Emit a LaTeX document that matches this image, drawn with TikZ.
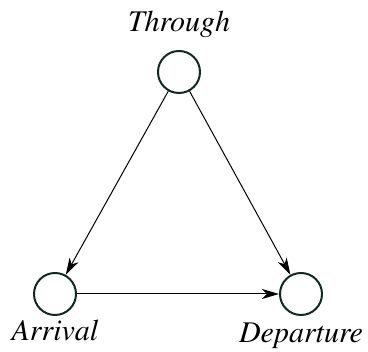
\documentclass[tikz,border=0pt]{standalone}
\usepackage[T1]{fontenc}
\usepackage{times}
\usetikzlibrary{positioning, arrows.meta}
\definecolor{ringgreen}{HTML}{0F2A1F}

\begin{document}
\begin{tikzpicture}[
  x=1pt, y=1pt,
  font=\rmfamily\itshape\fontsize{30}{34}\selectfont,
  node distance=5pt,
  station/.style={
    draw=ringgreen,
    line width=2pt,
    circle,
    minimum size=42pt,
    inner sep=0pt
  },
  tag/.style={inner sep=0pt, text=black},
  flow/.style={-{Stealth[length=17pt, width=10pt, inset=5pt]}, line width=1pt, color=black}
]
  \useasboundingbox (0,0) rectangle (368,352);

  % --- Stations ---
  \node[station] (thr) at (179,280) {};
  \node[station] (arr) at (55,58)   {};
  \node[station] (dep) at (301,58)  {};

  % --- Labels ---
  \node[tag, above=12pt of thr] (thrlbl) {Through};
  \node[tag, below=4pt of arr]  (arrlbl) {Arrival};
  \node[tag, below=7pt of dep]  (deplbl) {Departure};

  % Flows between stations
  \foreach \a/\b in {thr/arr, thr/dep, arr/dep}
    \draw[flow] (\a) -- (\b);

\end{tikzpicture}
\end{document}
